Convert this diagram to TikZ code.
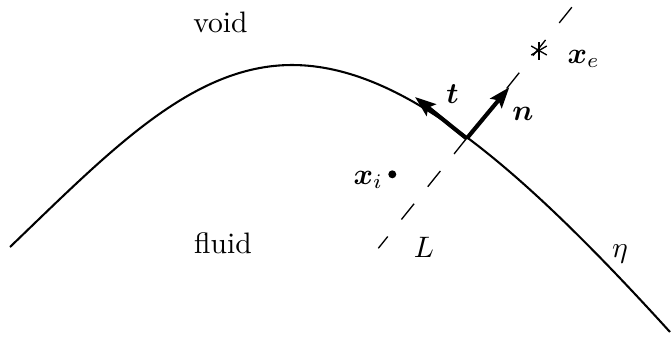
\documentclass[tikz,border=0pt]{standalone}
\usepackage{amsmath}
\usetikzlibrary{arrows.meta}
\begin{document}
\begin{tikzpicture}[x=0.338pt,y=-0.338pt,
  curve/.style={line width=0.7pt},
  guide/.style={line width=0.45pt, dash pattern=on 6.8pt off 7.4pt, dash phase=1.7pt},
  vec/.style={line width=1.4pt, -{Stealth[length=7pt,width=5pt,inset=1.3pt]}},
  starline/.style={line width=0.45pt},
  lbl/.style={inner sep=0pt, anchor=base},
  dotnode/.style={circle, fill, inner sep=0pt, minimum size=2.7pt}]
\useasboundingbox (0,0) rectangle (672,341);
% interface eta
\coordinate (A) at (10,247);
\coordinate (P) at (292,65);
\coordinate (B) at (670,332);
\draw[curve] (A) .. controls (110,151) and (192,65) .. (P)
                 .. controls (402,65) and (520,167) .. (B);
% line L
\coordinate (Lb) at (378.3,248.3);
\coordinate (Lt) at (575,3.3);
\draw[guide] (Lb) -- (Lt);
% vectors
\coordinate (O) at (466.7,138.5);
\coordinate (T) at (415,97);
\coordinate (N) at (509.3,87.3);
\draw[vec] (O) -- (T);
\draw[vec] (O) -- (N);
% points
\coordinate (xe) at (539,50.5);
\draw[starline] (xe) ++(90:9) -- ++(270:18);
\draw[starline] (xe) ++(30:9) -- ++(210:18);
\draw[starline] (xe) ++(150:9) -- ++(330:18);
\node[dotnode] (xi) at (392.3,174.3) {};
% labels
\node[lbl] (void) at (220.5,32) {void};
\node[lbl] (fluid) at (223,253) {fluid};
\node[lbl] (tl) at (452.5,103) {$\boldsymbol{t}$};
\node[lbl] (nl) at (523,120) {$\boldsymbol{n}$};
\node[lbl, anchor=base west] (xel) at (567,63.3) {$\boldsymbol{x}_e$};
\node[lbl, anchor=base west] (xil) at (353,184) {$\boldsymbol{x}_i$};
\node[lbl] (Ll) at (424,257) {$L$};
\node[lbl] (eta) at (620,257) {$\eta$};
\end{tikzpicture}
\end{document}
